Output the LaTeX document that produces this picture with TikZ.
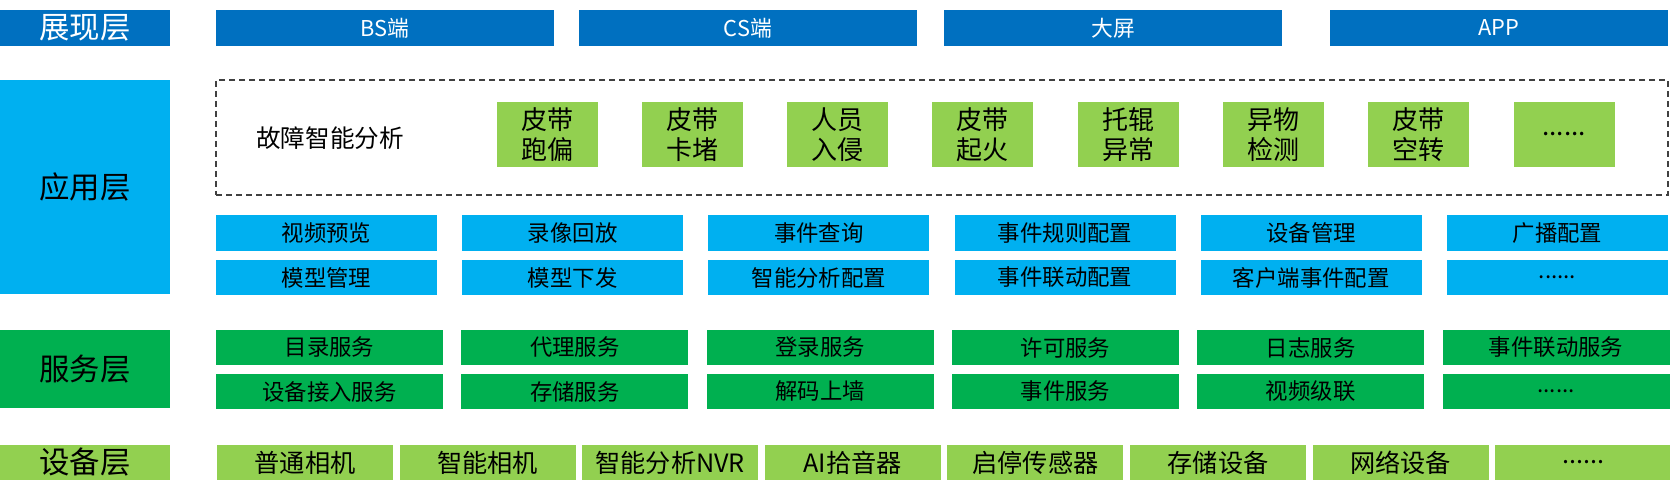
\documentclass[tikz,border=0pt]{standalone}
\usepackage{fontspec}
\setmainfont{Noto Sans CJK SC}
\usepackage{xcolor}
\usetikzlibrary{positioning}

\definecolor{deepblue}{HTML}{0070C0}
\definecolor{skyblue}{HTML}{00B0F0}
\definecolor{grassgreen}{HTML}{00B050}
\definecolor{limegreen}{HTML}{92D050}
\newcommand{\moredots}{......}

\begin{document}
\begin{tikzpicture}[x=0.5pt, y=-0.5pt,
  blk/.style={inner sep=0pt, outer sep=0pt, align=center},
  showbox/.style={blk, fill=deepblue, text=white, minimum height=18pt},
  appbox/.style={blk, fill=skyblue, text=black, minimum width=110.5pt, minimum height=17.75pt, font=\fontsize{11.2}{13}\selectfont},
  faultbox/.style={blk, fill=limegreen, text=black, minimum width=50.5pt, minimum height=32.5pt, font=\fontsize{13}{15}\selectfont},
  svcbox/.style={blk, fill=grassgreen, text=black, minimum width=113.5pt, minimum height=17.5pt, font=\fontsize{11.2}{13}\selectfont},
  devbox/.style={blk, fill=limegreen, text=black, minimum width=88pt, minimum height=17.5pt, font=\fontsize{12.6}{14}\selectfont},
  layer/.style={blk, minimum width=85pt, font=\fontsize{15.2}{17}\selectfont}]
\useasboundingbox (0,0) rectangle (1670,501);

% 展现层
\node[layer, showbox, minimum height=18pt] (showlayer) at (85,28) {展现层};
\foreach \name/\cx/\txt in {bs/385/BS端, cs/748/CS端, screen/1113/大屏, app/1499/APP}
  \node[showbox, minimum width=169pt, font=\fontsize{10.9}{12}\selectfont] (\name) at (\cx,28) {\txt};

% 应用层
\node[layer, fill=skyblue, minimum height=107pt] (applayer) at (85,187) {应用层};
\node[draw=black!75, dashed, dash pattern=on 3pt off 2pt, line width=0.8pt, minimum width=726pt, minimum height=57.5pt, inner sep=0pt] (faultzone) at (942,137.5) {};
\node[blk, font=\fontsize{12.3}{14}\selectfont] (faultlbl) at (330,138) {故障智能分析};
\foreach \i/\txt in {0/皮带\\跑偏, 1/皮带\\卡堵, 2/人员\\入侵, 3/皮带\\起火, 4/托辊\\异常, 5/异物\\检测, 6/皮带\\空转, 7/\moredots}
  \node[faultbox] (fault\i) at (547+145.3*\i,134.5) {\txt};

\foreach \i/\txt in {0/视频预览, 1/录像回放, 2/事件查询, 3/事件规则配置, 4/设备管理, 5/广播配置}
  \node[appbox] (appa\i) at (326.5+246.2*\i,233) {\txt};
\foreach \i/\txt in {0/模型管理, 1/模型下发, 2/智能分析配置, 3/事件联动配置, 4/客户端事件配置, 5/\moredots}
  \node[appbox] (appb\i) at (326.5+246.2*\i,277.5) {\txt};

% 服务层
\node[layer, fill=grassgreen, minimum height=39pt] (svclayer) at (85,369) {服务层};
\foreach \i/\txt in {0/目录服务, 1/代理服务, 2/登录服务, 3/许可服务, 4/日志服务, 5/事件联动服务}
  \node[svcbox] (svca\i) at (329.5+245.3*\i,347.5) {\txt};
\foreach \i/\txt in {0/设备接入服务, 1/存储服务, 2/解码上墙, 3/事件服务, 4/视频级联, 5/\moredots}
  \node[svcbox] (svcb\i) at (329.5+245.3*\i,391.5) {\txt};

% 设备层
\node[layer, fill=limegreen, minimum height=17.5pt] (devlayer) at (85,462.5) {设备层};
\foreach \i/\txt in {0/普通相机, 1/智能相机, 2/智能分析NVR, 3/AI拾音器, 4/启停传感器, 5/存储设备, 6/网络设备, 7/\moredots}
  \node[devbox] (dev\i) at (305+182.6*\i,462.5) {\txt};
\end{tikzpicture}
\end{document}
